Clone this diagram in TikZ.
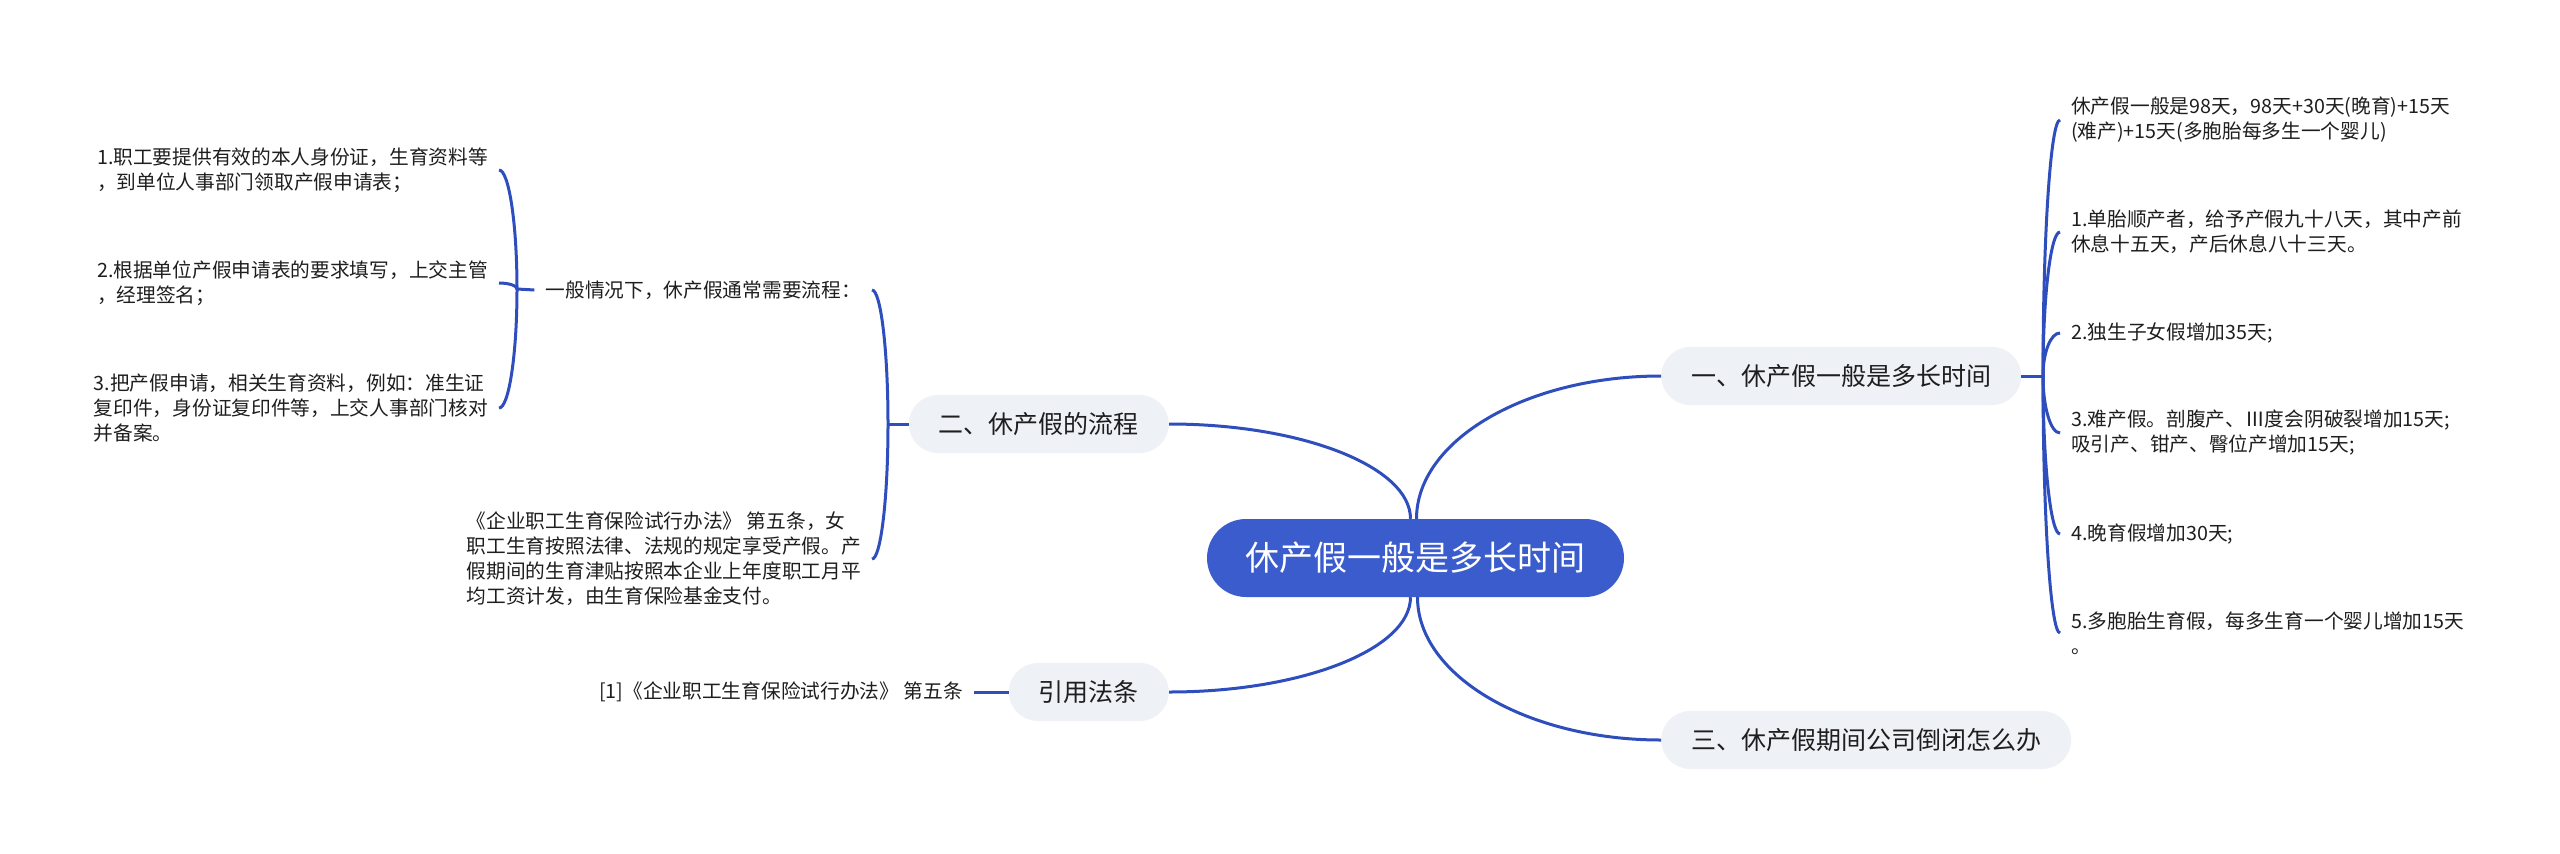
\documentclass[tikz,border=0pt]{standalone}
\usepackage{fontspec}
\setmainfont{Noto Sans CJK SC}
\usepackage{tikz}
\usetikzlibrary{calc}
\definecolor{linkblue}{RGB}{46,78,190}
\definecolor{rootblue}{RGB}{59,92,204}
\definecolor{topicgray}{RGB}{238,241,245}
\definecolor{inkblack}{RGB}{30,30,30}

\begin{document}
\begin{tikzpicture}[x=1pt, y=-1pt,
  root/.style={fill=rootblue, text=white, rounded corners=39pt, minimum width=417pt,
    minimum height=78pt, inner sep=0pt, font=\fontsize{34}{40}\selectfont},
  topic/.style={fill=topicgray, text=inkblack, rounded corners=29pt, minimum height=58pt,
    inner xsep=30pt, inner ysep=0pt, font=\fontsize{25}{30}\selectfont},
  leaf/.style={text=inkblack, align=left, inner xsep=11pt, inner ysep=0pt,
    font=\fontsize{19.7}{25}\selectfont},
  link/.style={draw=linkblue, line width=3pt,
    to path={.. controls ($(\tikztostart)!0.55!(\tikztostart |- \tikztotarget)$)
      and ($(\tikztotarget)!0.55!(\tikztostart |- \tikztotarget)$) .. (\tikztotarget)}}]
  \useasboundingbox (0,0) rectangle (2560,854);

  % Root and main topics
  \node[root] (c) at (1415.5,558) {休产假一般是多长时间};
  \node[topic, anchor=west] (t1) at (1661,376) {一、休产假一般是多长时间};
  \node[topic, anchor=east] (t2) at (1169,424) {二、休产假的流程};
  \node[topic, anchor=west] (t3) at (1661,740) {三、休产假期间公司倒闭怎么办};
  \node[topic, anchor=east] (t4) at (1169,692) {引用法条};

  \coordinate (cl) at ($(c.north)+(-5,0)$);
  \coordinate (cr) at ($(c.north)+(1,0)$);
  \coordinate (bl) at ($(c.south)+(-5,0)$);
  \coordinate (br) at ($(c.south)+(2,0)$);
  \draw[link] (cr) to (t1.west);
  \draw[link] (cl) to (t2.east);
  \draw[link] (br) to (t3.west);
  \draw[link] (bl) to (t4.east);

  % Right side: durations
  \node[leaf, anchor=west] (r0) at (2060,120) {休产假一般是98天，98天+30天(晚育)+15天\\(难产)+15天(多胞胎每多生一个婴儿)};
  \node[leaf, anchor=west] (r1) at (2060,232) {1.单胎顺产者，给予产假九十八天，其中产前\\休息十五天，产后休息八十三天。};
  \node[leaf, anchor=west] (r2) at (2060,333) {2.独生子女假增加35天;};
  \node[leaf, anchor=west] (r3) at (2060,433) {3.难产假。剖腹产、Ⅲ度会阴破裂增加15天;\\吸引产、钳产、臀位产增加15天;};
  \node[leaf, anchor=west] (r4) at (2060,534) {4.晚育假增加30天;};
  \node[leaf, anchor=west] (r5) at (2060,633) {5.多胞胎生育假，每多生育一个婴儿增加15天\\。};
  \coordinate (s1) at (2043,376);
  \draw[link] (t1.east) -- (s1);
  \foreach \n in {r0,r1,r2,r3,r4,r5}
    \draw[link] (s1) to (\n.west);

  % Left side: procedure
  \node[leaf, anchor=east] (m1) at (872,290) {一般情况下，休产假通常需要流程：};
  \node[leaf, anchor=east] (m2) at (872,559) {《企业职工生育保险试行办法》 第五条，女\\职工生育按照法律、法规的规定享受产假。产\\假期间的生育津贴按照本企业上年度职工月平\\均工资计发，由生育保险基金支付。};
  \coordinate (s2) at (888,424);
  \draw[link] (t2.west) -- (s2);
  \foreach \n in {m1,m2}
    \draw[link] (s2) to (\n.east);

  \node[leaf, anchor=east] (l1) at (499,170) {1.职工要提供有效的本人身份证，生育资料等\\，到单位人事部门领取产假申请表；};
  \node[leaf, anchor=east] (l2) at (499,283) {2.根据单位产假申请表的要求填写，上交主管\\，经理签名；};
  \node[leaf, anchor=east] (l3) at (499,408) {3.把产假申请，相关生育资料，例如：准生证\\复印件，身份证复印件等，上交人事部门核对\\并备案。};
  \coordinate (s3) at (517,289);
  \draw[link] (m1.west) -- (s3);
  \foreach \n in {l1,l2,l3}
    \draw[link] (s3) to (\n.east);

  % Citation
  \node[leaf, anchor=east] (m3) at (974,692) {[1]《企业职工生育保险试行办法》 第五条};
  \draw[link] (t4.west) -- (m3.east);
\end{tikzpicture}
\end{document}
